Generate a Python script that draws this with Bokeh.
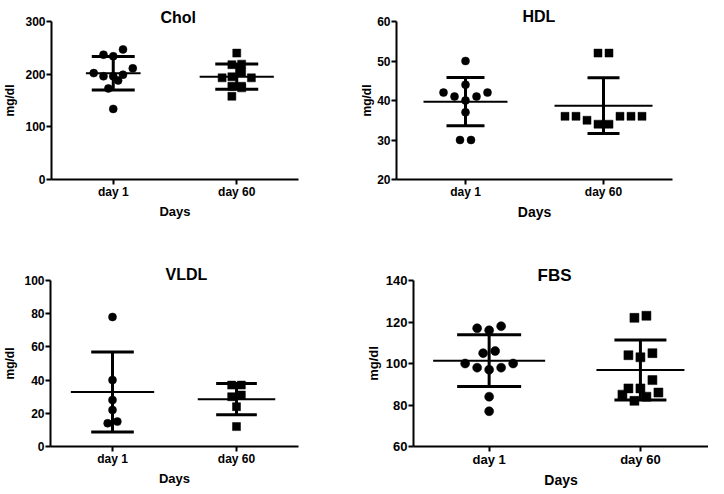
import numpy as np
from bokeh.plotting import figure
from bokeh.layouts import column, row
from bokeh.models import Range1d, FixedTicker
from bokeh.embed import file_html
from bokeh.resources import INLINE

# ---------------- data ----------------
categories = ["day 1", "day 60"]
x_label = "Days"
y_label = "mg/dl"

chol_title = "Chol"
chol_day1 = [247, 234, 237, 211, 202, 196, 188, 196, 199, 173, 134]
chol_day60 = [240, 219, 218, 204, 193, 193, 195, 177, 177, 174, 158]
chol_ticks = [0, 100, 200, 300]

hdl_title = "HDL"
hdl_day1 = [50, 44, 42, 42, 41, 41, 40, 37, 30, 30]
hdl_day60 = [52, 52, 36, 36, 35, 34, 34, 36, 36, 36]
hdl_ticks = [20, 30, 40, 50, 60]

vldl_title = "VLDL"
vldl_day1 = [78, 40, 28, 22, 14, 15]
vldl_day60 = [37, 37, 31, 30, 24, 12]
vldl_ticks = [0, 20, 40, 60, 80, 100]

fbs_title = "FBS"
fbs_day1 = [118, 116, 117, 106, 105, 100, 100, 98, 98, 97, 84, 77]
fbs_day60 = [123, 122, 105, 103, 104, 92, 88, 88, 85, 86, 82, 84]
fbs_ticks = [60, 80, 100, 120, 140]

FONT = "Liberation Sans"
MARKERS = ["circle", "square"]


def swarm_offsets(vals, px_per_y, spacing, row_px=8.5):
    """GraphPad-like row layout: values close in y share a row, spread sideways."""
    order = sorted(range(len(vals)), key=lambda i: vals[i])
    rows, cur = [], []
    for i in order:
        if cur and (vals[i] - vals[cur[0]]) * px_per_y > row_px:
            rows.append(cur)
            cur = []
        cur.append(i)
    if cur:
        rows.append(cur)
    offs = [0.0] * len(vals)
    for r in rows:
        m = len(r)
        if m % 2:
            slots = [0.0]
            k = 1
            while len(slots) < m:
                slots += [-k, k]
                k += 1
        else:
            slots = []
            k = 0.5
            while len(slots) < m:
                slots += [-k, k]
                k += 1
        for j, i in enumerate(r):
            offs[i] = slots[j] * spacing
    return offs


def make_panel(title, groups, yticks, width, height, mbl, mbr, mbt, mbb,
               x_end=2.5, tick_fs=12, xlab_fs=13, ylab_fs=12, title_fs=16,
               title_offset=0, title_standoff=-4, ylab_standoff=6,
               spacing_px=10.5, mean_hw=(30, 30), cap_hw=(20, 20), msize=8):
    ymin, ymax = yticks[0], yticks[-1]
    fw = width - mbl - mbr
    fh = height - mbt - mbb
    px_x = fw / (x_end - 0.5)
    px_y = fh / (ymax - ymin)

    p = figure(width=width, height=height, x_range=Range1d(0.5, x_end),
               y_range=Range1d(ymin, ymax), output_backend="svg",
               toolbar_location=None, min_border_left=mbl, min_border_right=mbr,
               min_border_top=mbt, min_border_bottom=mbb, title=title)
    p.title.align = "left"
    p.title.offset = title_offset
    p.title.standoff = title_standoff
    p.title.text_font = FONT
    p.title.text_font_style = "bold"
    p.title.text_font_size = f"{title_fs}px"
    p.title.text_color = "black"
    p.outline_line_color = None
    p.xgrid.visible = False
    p.ygrid.visible = False
    p.background_fill_color = "white"
    p.border_fill_color = "white"

    for ax in (p.xaxis[0], p.yaxis[0]):
        ax.axis_line_width = 2
        ax.axis_line_color = "black"
        ax.major_tick_line_width = 2
        ax.major_tick_line_color = "black"
        ax.major_tick_in = 0
        ax.major_tick_out = 5
        ax.minor_tick_line_color = None
        ax.major_label_text_font = FONT
        ax.major_label_text_font_style = "bold"
        ax.major_label_text_color = "black"
        ax.major_label_text_line_height = 1.0
        ax.axis_label_text_font = FONT
        ax.axis_label_text_font_style = "bold"
        ax.axis_label_text_color = "black"
        ax.axis_label_text_line_height = 1.0
    p.xaxis.major_label_text_font_size = f"{tick_fs}px"
    p.yaxis.major_label_text_font_size = f"{tick_fs}px"
    p.xaxis.axis_label_text_font_size = f"{xlab_fs}px"
    p.yaxis.axis_label_text_font_size = f"{ylab_fs}px"
    p.xaxis.major_label_standoff = 0
    p.yaxis.major_label_standoff = 1
    p.xaxis.axis_label_standoff = 2
    p.yaxis.axis_label_standoff = ylab_standoff
    p.xaxis.axis_label = x_label
    p.yaxis.axis_label = y_label
    p.yaxis.ticker = FixedTicker(ticks=yticks)
    p.xaxis.ticker = FixedTicker(ticks=[1, 2])
    p.xaxis.major_label_overrides = {i + 1: c for i, c in enumerate(categories)}

    for gi, vals in enumerate(groups):
        pos = gi + 1
        offs = swarm_offsets(vals, px_y, spacing_px / px_x)
        xs = [pos + o for o in offs]
        p.scatter(xs, vals, marker=MARKERS[gi], size=msize, fill_color="black",
                  line_color="black", line_width=0.5)
        arr = np.array(vals, dtype=float)
        m = arr.mean()
        sd = arr.std(ddof=1)
        mh = mean_hw[gi] / px_x
        ch = cap_hw[gi] / px_x
        p.segment(x0=[pos - mh], y0=[m], x1=[pos + mh], y1=[m],
                  line_color="black", line_width=2)
        p.segment(x0=[pos - ch, pos - ch], y0=[m + sd, m - sd],
                  x1=[pos + ch, pos + ch], y1=[m + sd, m - sd],
                  line_color="black", line_width=3)
        p.segment(x0=[pos], y0=[m - sd], x1=[pos], y1=[m + sd],
                  line_color="black", line_width=3)
    return p


p1 = make_panel(chol_title, [chol_day1, chol_day60], chol_ticks,
                352, 240, 45, 54, 21, 61, tick_fs=12, xlab_fs=13, ylab_fs=12,
                title_fs=16, title_offset=109, title_standoff=-8, ylab_standoff=5,
                spacing_px=10, mean_hw=(28, 38), cap_hw=(22, 22))
p2 = make_panel(hdl_title, [hdl_day1, hdl_day60], hdl_ticks,
                356, 240, 44, 36, 18, 60, tick_fs=12, xlab_fs=14, ylab_fs=12,
                title_fs=16, title_offset=126, title_standoff=-7, ylab_standoff=0,
                spacing_px=11, mean_hw=(42, 49), cap_hw=(19, 16))
p3 = make_panel(vldl_title, [vldl_day1, vldl_day60], vldl_ticks,
                352, 250, 42, 54, 39, 42, tick_fs=12, xlab_fs=13, ylab_fs=12,
                title_fs=16, title_offset=115, title_standoff=-5, ylab_standoff=4,
                spacing_px=10, mean_hw=(43, 40), cap_hw=(22, 21))
p4 = make_panel(fbs_title, [fbs_day1, fbs_day60], fbs_ticks,
                356, 250, 61, 0, 40, 42, x_end=2.45, tick_fs=13, xlab_fs=14,
                ylab_fs=13, title_fs=17, title_offset=124, title_standoff=-8,
                ylab_standoff=2, spacing_px=12, mean_hw=(56, 44),
                cap_hw=(32, 26), msize=9)

layout = column(row(p1, p2), row(p3, p4))
open("out.html", "w").write(file_html(layout, INLINE))
